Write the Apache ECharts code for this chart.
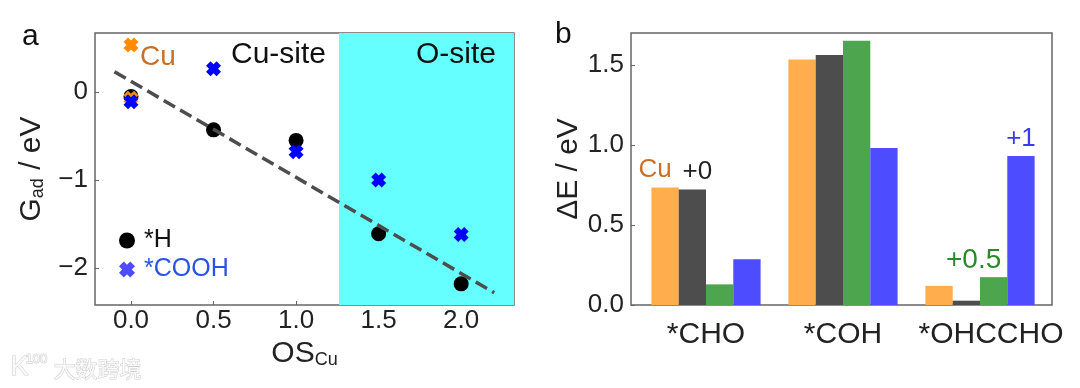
<!DOCTYPE html>
<html>
<head>
<meta charset="utf-8">
<style>html,body{margin:0;padding:0;background:#fff}#main{width:1080px;height:388px}</style>
<script src="https://cdn.jsdelivr.net/npm/echarts@6/dist/echarts.min.js"></script>
</head>
<body>
<div id="main"></div>
<script>
// panel a
var hPoints = [[0, -0.05], [0.5, -0.43], [1.0, -0.55], [1.5, -1.61], [2.0, -2.18]];
var coohPoints = [[0, -0.11], [0.5, 0.265], [1.0, -0.68], [1.5, -1.0], [2.0, -1.62]];
var cuCooh = [[0, 0.535]];
var cuH = [[0, -0.07]];
var fitLine = [[-0.1, 0.23], [2.2, -2.28]];
var oSiteStart = 1.26;
var xTicks = [0, 0.5, 1, 1.5, 2];
var yTicks = [-2, -1, 0];
// panel b
var adsorbates = ['*CHO', '*COH', '*OHCCHO'];
var cuBars = [0.734, 1.535, 0.12];
var plus0Bars = [0.722, 1.562, 0.027];
var plus05Bars = [0.129, 1.651, 0.174];
var plus1Bars = [0.286, 0.981, 0.932];
var energyTicks = [0, 0.5, 1, 1.5];

var font = '"Liberation Sans", Arial, sans-serif';
var xMark = 'path://M3,0 L5,2 L7,0 L10,3 L8,5 L10,7 L7,10 L5,8 L3,10 L0,7 L2,5 L0,3 Z';
var orange = '#ffad4d', dark = '#4d4d4d', green = '#4da64d', blue = '#4d4dff';

function bar(name, values, color, labelIndex, labelText, labelColor, labelSize, labelOffset) {
	return {
		name: name,
		type: 'bar',
		xAxisIndex: 2,
		yAxisIndex: 2,
		barWidth: 27.3,
		barGap: 0,
		itemStyle: { color: color },
		data: values.map(function(v, i) {
			if (i !== labelIndex) return v;
			return {
				value: v,
				label: {
					show: true,
					position: 'top',
					formatter: labelText,
					color: labelColor,
					fontSize: labelSize,
					fontFamily: font,
					offset: labelOffset
				}
			};
		})
	};
}

var myChart = echarts.init(document.getElementById('main'), null, { renderer: 'canvas' });
var option = {
	animation: false,
	backgroundColor: '#fff',
	textStyle: { fontFamily: font },
	grid: [
		{ left: 95, top: 33, width: 419, height: 272, show: true, borderColor: '#666', borderWidth: 1.5, backgroundColor: 'transparent' },
		{ left: 631, top: 33, width: 421, height: 272, show: true, borderColor: '#666', borderWidth: 1.5, backgroundColor: 'transparent' },
		{ left: 637.5, top: 33, width: 411, height: 272 }
	],
	xAxis: [
		{
			gridIndex: 0, type: 'value', min: -0.218, max: 2.32,
			splitLine: { show: false },
			axisLine: { show: false, onZero: false },
			axisTick: { show: true, inside: true, length: 4, lineStyle: { color: '#666' }, customValues: xTicks },
			axisLabel: { color: '#222', fontSize: 26, margin: 3, fontFamily: font, customValues: xTicks, formatter: function(v) { return v.toFixed(1); } },
			name: '{a|OS}{b|Cu}',
			nameLocation: 'middle',
			nameGap: 28,
			nameTextStyle: { rich: { a: { fontSize: 30, color: '#222', fontFamily: font }, b: { fontSize: 18, color: '#222', fontFamily: font, padding: [12, 0, 0, 0] } } }
		},
		{ gridIndex: 1, type: 'value', min: 0, max: 1, show: false },
		{
			gridIndex: 2, type: 'category',
			data: adsorbates.map(function(name, i) {
				// the last label sits a little right of its bars
				return i === 2 ? { value: name, textStyle: { padding: [0, 0, 0, 22] } } : name;
			}),
			axisLine: { show: false },
			axisTick: { show: false },
			axisLabel: { color: '#222', fontSize: 30, margin: 15, fontFamily: font, hideOverlap: false, interval: 0 }
		}
	],
	yAxis: [
		{
			gridIndex: 0, type: 'value', min: -2.42, max: 0.67,
			splitLine: { show: false },
			axisLine: { show: false, onZero: false },
			axisTick: { show: true, inside: true, length: 4, lineStyle: { color: '#666' }, customValues: yTicks },
			axisLabel: { color: '#222', fontSize: 26, margin: 7, padding: [3, 0, 0, 0], fontFamily: font, customValues: yTicks, formatter: function(v) { return String(v).replace('-', '\u2212'); } },
			name: '{a|G}{b|ad}{a| / eV}',
			nameLocation: 'middle',
			nameGap: 48,
			nameRotate: 90,
			nameTextStyle: { rich: { a: { fontSize: 30, color: '#222', fontFamily: font }, b: { fontSize: 18, color: '#222', fontFamily: font, padding: [12, 0, 0, 0] } } }
		},
		{
			gridIndex: 1, type: 'value', min: 0, max: 1.7,
			splitLine: { show: false },
			axisLine: { show: false, onZero: false },
			axisTick: { show: true, inside: true, length: 4, lineStyle: { color: '#666' }, customValues: energyTicks },
			axisLabel: { color: '#222', fontSize: 26, margin: 7, padding: [3, 0, 0, 0], fontFamily: font, customValues: energyTicks, formatter: function(v) { return v.toFixed(1); } },
			name: '\u0394E / eV',
			nameLocation: 'middle',
			nameGap: 42,
			nameRotate: 90,
			nameTextStyle: { fontSize: 30, color: '#222', fontFamily: font }
		},
		{ gridIndex: 2, type: 'value', min: 0, max: 1.7, show: false }
	],
	legend: {
		left: 114,
		top: 223,
		orient: 'vertical',
		itemWidth: 16,
		itemHeight: 16,
		itemGap: 4,
		data: [
			{ name: '*H', icon: 'circle', itemStyle: { color: '#000', opacity: 1 }, textStyle: { color: '#111', fontSize: 25, fontFamily: font, padding: [0, 0, 0, 4] } },
			{ name: '*COOH', icon: xMark, itemStyle: { color: '#4d4dff', opacity: 1 }, textStyle: { color: '#2a52e8', fontSize: 25, fontFamily: font, padding: [0, 0, 0, 4] } }
		]
	},
	series: [
		{
			name: 'site',
			type: 'line',
			data: [],
			markArea: {
				silent: true,
				itemStyle: { color: '#66ffff', opacity: 1 },
				data: [[{ xAxis: oSiteStart, yAxis: -2.42 }, { xAxis: 2.32, yAxis: 0.67 }]]
			}
		},
		{
			name: '*H', type: 'scatter', symbol: 'circle', symbolSize: 15, z: 3,
			itemStyle: { color: '#000', opacity: 1 }, data: hPoints
		},
		{
			name: 'Cu *H', type: 'scatter', symbol: xMark, symbolSize: 15, z: 4,
			itemStyle: { color: '#ff8c00', opacity: 1 }, data: cuH
		},
		{
			name: 'Cu *COOH', type: 'scatter', symbol: xMark, symbolSize: 15, z: 4,
			itemStyle: { color: '#ff8c00', opacity: 1 }, data: cuCooh
		},
		{
			name: '*COOH', type: 'scatter', symbol: xMark, symbolSize: 15, z: 5,
			itemStyle: { color: '#0000ff', opacity: 1 }, data: coohPoints
		},
		{
			name: 'fit', type: 'line', showSymbol: false, symbol: 'none', z: 6,
			lineStyle: { color: '#4d4d4d', width: 3.5, type: [13, 6] }, data: fitLine
		},
		bar('Cu', cuBars, orange, 0, 'Cu', '#c8702a', 26, [-10, 0]),
		bar('+0', plus0Bars, dark, 0, '+0', '#222', 26, [5, 0]),
		bar('+0.5', plus05Bars, green, 2, '+0.5', '#2a8a2a', 28, [-20, 2]),
		bar('+1', plus1Bars, blue, 2, '+1', '#3a3af0', 26, [0, 1])
	],
	graphic: [
		{ type: 'text', left: 22, top: 22, style: { text: 'a', fontSize: 30, fill: '#111', fontFamily: font } },
		{ type: 'text', left: 555, top: 20, style: { text: 'b', fontSize: 30, fill: '#111', fontFamily: font } },
		{ type: 'text', left: 140, top: 43, z: 10, style: { text: 'Cu', fontSize: 28, fill: '#c8702a', fontFamily: font } },
		{ type: 'text', left: 231, top: 40, z: 10, style: { text: 'Cu-site', fontSize: 30, fill: '#111', fontFamily: font } },
		{ type: 'text', left: 416, top: 40, z: 10, style: { text: 'O-site', fontSize: 30, fill: '#111', fontFamily: font } },
		{ type: 'text', left: 10, top: 354, z: 10, style: { text: 'K', fontSize: 27, fill: '#fafafa', stroke: '#ccc', lineWidth: 1, fontFamily: font } },
		{ type: 'text', left: 25, top: 352, z: 10, style: { text: '100', fontSize: 13, fill: '#fafafa', stroke: '#ccc', lineWidth: 1, fontFamily: font } },
		{ type: 'text', left: 53, top: 357, z: 10, style: { text: '\u5927\u6570\u8de8\u5883', fontSize: 22, fill: '#fafafa', stroke: '#ccc', lineWidth: 1, fontFamily: '"Noto Sans CJK SC"' } }
	]
};
myChart.setOption(option);
</script>
</body>
</html>
